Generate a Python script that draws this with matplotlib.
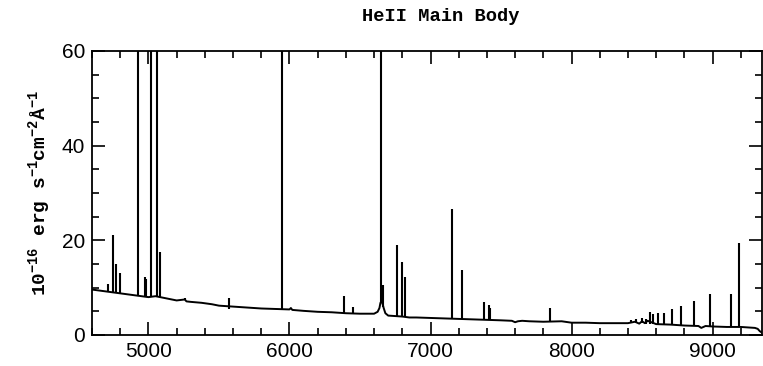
import matplotlib.pyplot as plt
from matplotlib.ticker import MultipleLocator

plt.rcParams["mathtext.fontset"] = "custom"
plt.rcParams["mathtext.rm"] = "Liberation Mono:bold"
plt.rcParams["mathtext.default"] = "rm"

# continuum of the spectrum (Angstrom, 1e-16 erg/s/cm2/A)
cont_wave = [4600, 4650, 4700, 4750, 4800, 4850, 4900, 4950, 5000, 5050,
             5100, 5150, 5200, 5257, 5270, 5300, 5377, 5450, 5500, 5600,
             5700, 5800, 5900, 6000, 6010, 6020, 6100, 6200, 6300, 6400,
             6500, 6600, 6625, 6638, 6645, 6655, 6668, 6680, 6700, 6800,
             6850, 6900, 7000, 7100, 7200, 7300, 7400, 7500, 7577, 7600,
             7620, 7650, 7700, 7800, 7930, 8000, 8100, 8200, 8300, 8400,
             8450, 8480, 8500, 8520, 8540, 8600, 8700, 8800, 8900, 8920,
             8950, 9000, 9100, 9200, 9250, 9300, 9320, 9335, 9350]
cont_flux = [9.6, 9.4, 9.2, 9.0, 8.8, 8.6, 8.4, 8.2, 8.0, 8.2,
             7.9, 7.6, 7.3, 7.5, 7.1, 7.0, 6.8, 6.5, 6.2, 6.0,
             5.8, 5.6, 5.5, 5.4, 5.7, 5.3, 5.1, 4.9, 4.8, 4.6,
             4.5, 4.5, 4.9, 5.7, 6.8, 7.2, 5.7, 4.6, 4.1, 3.9,
             3.7, 3.7, 3.6, 3.5, 3.4, 3.3, 3.2, 3.1, 3.0, 2.7,
             2.9, 3.0, 2.9, 2.8, 2.9, 2.6, 2.6, 2.5, 2.5, 2.5,
             2.8, 2.4, 2.9, 2.5, 3.0, 2.3, 2.2, 2.0, 1.9, 1.5,
             1.9, 1.8, 1.7, 1.7, 1.6, 1.5, 1.3, 0.8, 0.5]

# emission lines: centre, base and peak flux
line_wave = [4713, 4746, 4770, 4800, 4923, 4975, 4985, 5019, 5064, 5083,
             5257, 5570, 5950, 6390, 6447, 6647, 6660, 6765, 6800, 6819,
             7155, 7225, 7378, 7413, 7425, 7849, 8420, 8460, 8500, 8530,
             8555, 8580, 8615, 8657, 8713, 8779, 8866, 8979, 9132, 9184]
line_base = [9.2, 9.0, 8.9, 8.8, 8.3, 8.1, 8.1, 8.0, 8.1, 8.0,
             7.3, 5.4, 5.4, 4.6, 4.5, 7.0, 6.0, 3.9, 3.9, 3.9,
             3.4, 3.4, 3.2, 3.2, 3.2, 2.8, 2.5, 2.5, 2.5, 2.4,
             2.4, 2.4, 2.3, 2.3, 2.2, 2.1, 2.0, 1.8, 1.7, 1.7]
line_peak = [10.8, 21.1, 15.1, 13.0, 150, 12.3, 11.8, 150, 150, 17.6,
             7.8, 7.8, 150, 8.2, 5.85, 150, 10.6, 19.0, 15.5, 12.3,
             26.6, 13.75, 7.0, 6.3, 5.6, 5.6, 3.2, 3.4, 3.6, 3.3,
             4.9, 4.4, 4.6, 4.7, 5.5, 6.2, 7.25, 8.65, 8.65, 19.4]

fig = plt.figure(figsize=(7.63, 3.66), dpi=100)
ax = fig.add_axes([0.1206, 0.0847, 0.878, 0.776])

ax.plot(cont_wave, cont_flux, color="black", lw=1.4)
ax.vlines(line_wave, line_base, line_peak, color="black", lw=1.5)

ax.set_xlim(4600, 9350)
ax.set_ylim(0, 60)
ax.xaxis.set_major_locator(MultipleLocator(1000))
ax.xaxis.set_minor_locator(MultipleLocator(200))
ax.yaxis.set_major_locator(MultipleLocator(20))
ax.yaxis.set_minor_locator(MultipleLocator(5))
ax.tick_params(which="both", direction="in", top=True, right=True, width=1.2)
ax.tick_params(which="major", length=9.5, labelsize=15, pad=5)
ax.tick_params(which="minor", length=5)
for lab in ax.get_xticklabels() + ax.get_yticklabels():
    lab.set_family("Liberation Sans")
for s in ax.spines.values():
    s.set_linewidth(1.3)

ax.set_ylabel(r"10$^{-16}$ erg s$^{-1}$cm$^{-2}$Å$^{-1}$",
              family="Liberation Mono", weight="bold", fontsize=14, labelpad=6)
fig.text(0.577, 0.955, "HeII Main Body", family="Liberation Mono",
         weight="bold", fontsize=13.5, ha="center", va="center")

fig.savefig("out.png", dpi=100)
